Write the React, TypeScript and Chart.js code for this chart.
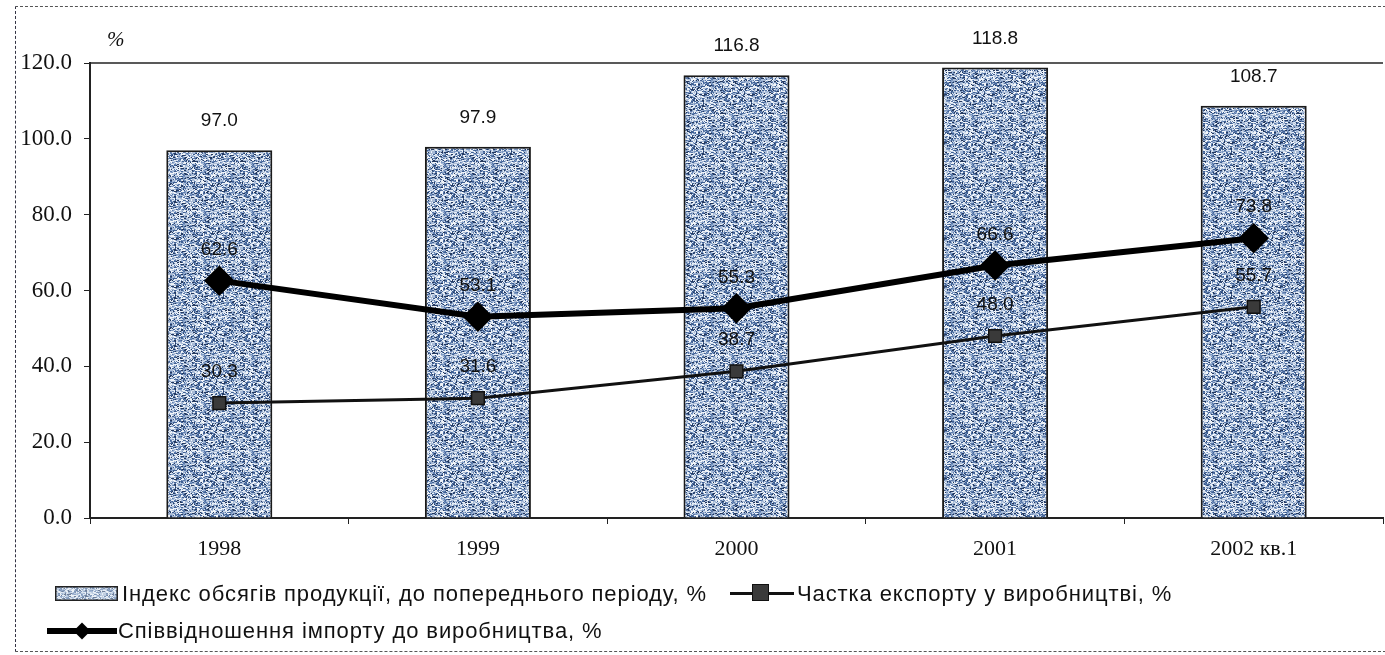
import React, { useEffect, useRef } from "react";
import { Chart, registerables } from "chart.js";
Chart.register(...registerables);

const categories = ["1998", "1999", "2000", "2001", "2002 кв.1"];
const productionIndex = [97.0, 97.9, 116.8, 118.8, 108.7];
const exportShare = [30.3, 31.6, 38.7, 48.0, 55.7];
const importRatio = [62.6, 53.1, 55.3, 66.6, 73.8];
const seriesNames = [
  "Індекс обсягів продукції, до попереднього періоду, %",
  "Частка експорту у виробництві, %",
  "Співвідношення імпорту до виробництва, %",
];
const yMin = 0;
const yMax = 120;
const yStep = 20;
const unitLabel = "%";

function hash(x: number, y: number) {
  const v = Math.sin(x * 12.9898 + y * 78.233) * 43758.5453;
  return v - Math.floor(v);
}

function makePattern(): CanvasPattern | string {
  const c = document.createElement("canvas");
  c.width = 48;
  c.height = 48;
  const g = c.getContext("2d");
  if (!g) return "#9fb3cf";
  const cols = ["#3e5f92", "#7d99c2", "#e9eff6", "#24395f", "#a9bcd8", "#d3deec", "#5b7aab", "#f4f7fb"];
  g.fillStyle = "#a9bbd6";
  g.fillRect(0, 0, 48, 48);
  for (let y = 0; y < 48; y += 1) {
    for (let x = 0; x < 48; x += 1) {
      const h = hash(x * 1.3, y * 0.7);
      if (h < 0.7) {
        g.fillStyle = cols[Math.floor(hash(y, x) * cols.length)];
        g.fillRect(x, y, 2, 1);
      }
    }
  }
  return g.createPattern(c, "repeat") || "#9fb3cf";
}

const labelPlugin = {
  id: "valueLabels",
  afterDatasetsDraw(chart: any) {
    const ctx = chart.ctx;
    ctx.save();
    ctx.fillStyle = "#111";
    ctx.textAlign = "center";
    ctx.textBaseline = "middle";
    ctx.font = "19px 'Liberation Sans', Arial, sans-serif";
    chart.data.datasets.forEach((ds: any, i: number) => {
      const meta = chart.getDatasetMeta(i);
      meta.data.forEach((el: any, j: number) => {
        const v = ds.data[j] as number;
        const off = ds.type === "line" ? 31 : 29;
        ctx.fillText(v.toFixed(1), el.x, el.y - off);
      });
    });
    ctx.restore();
  },
};

const framePlugin = {
  id: "frameTop",
  beforeDatasetsDraw(chart: any) {
    const { ctx, chartArea } = chart;
    ctx.save();
    ctx.strokeStyle = "#222";
    ctx.lineWidth = 1.5;
    ctx.beginPath();
    ctx.moveTo(chartArea.left, chartArea.top);
    ctx.lineTo(chartArea.right, chartArea.top);
    ctx.stroke();
    ctx.restore();
  },
};

export default function App() {
  const ref = useRef<HTMLCanvasElement | null>(null);
  const patRef = useRef<HTMLCanvasElement | null>(null);

  useEffect(() => {
    if (!ref.current) return;
    const pattern = makePattern();
    if (patRef.current) {
      const g = patRef.current.getContext("2d");
      if (g) {
        g.fillStyle = "#e3eaf3";
        g.fillRect(0, 0, 63, 15);
        g.globalAlpha = 0.6;
        g.fillStyle = pattern as any;
        g.fillRect(0, 0, 63, 15);
        g.globalAlpha = 1;
        g.strokeStyle = "#222";
        g.lineWidth = 1.5;
        g.strokeRect(0.75, 0.75, 61.5, 13.5);
      }
    }
    const serif = "'Liberation Serif', 'Times New Roman', serif";
    const chart = new Chart(ref.current, {
      type: "bar",
      data: {
        labels: categories,
        datasets: [
          {
            type: "bar",
            label: seriesNames[0],
            data: productionIndex,
            backgroundColor: pattern as any,
            borderColor: "#1a1a1a",
            borderWidth: 2,
            barPercentage: 1,
            categoryPercentage: 0.41,
            order: 3,
          },
          {
            type: "line",
            label: seriesNames[1],
            data: exportShare,
            borderColor: "#111",
            borderWidth: 3,
            pointStyle: "rect",
            pointRadius: 9,
            pointBackgroundColor: "#3a3a3a",
            pointBorderColor: "#111",
            pointBorderWidth: 1.5,
            tension: 0,
            order: 2,
          },
          {
            type: "line",
            label: seriesNames[2],
            data: importRatio,
            borderColor: "#000",
            borderWidth: 6,
            pointStyle: "rectRot",
            pointRadius: 11,
            pointBackgroundColor: "#000",
            pointBorderColor: "#000",
            tension: 0,
            order: 1,
          },
        ] as any,
      },
      options: {
        responsive: false,
        animation: false,
        layout: { padding: { left: 10, right: 0, top: 63, bottom: 87 } },
        plugins: {
          legend: { display: false },
          tooltip: { enabled: false },
        },
        scales: {
          x: {
            offset: true,
            grid: {
              display: true,
              offset: true,
              drawOnChartArea: false,
              drawTicks: true,
              tickLength: 6,
              color: "#222",
            },
            border: { color: "#222", width: 2 },
            ticks: { color: "#111", font: { family: serif, size: 22 }, padding: 12 },
            afterFit: (s: any) => {
              s.height = 50;
            },
          },
          y: {
            min: yMin,
            max: yMax,
            grid: {
              display: true,
              drawOnChartArea: false,
              drawTicks: true,
              tickLength: 6,
              color: "#222",
            },
            border: { color: "#222", width: 2 },
            ticks: {
              stepSize: yStep,
              color: "#111",
              padding: 12,
              font: { family: serif, size: 23 },
              callback: (v: any) => Number(v).toFixed(1),
            },
            afterFit: (s: any) => {
              s.width = 80;
            },
          },
        },
      },
      plugins: [labelPlugin, framePlugin],
    });
    return () => chart.destroy();
  }, []);

  const legendFont: React.CSSProperties = {
    position: "absolute",
    fontFamily: "'Liberation Sans', Arial, sans-serif",
    fontSize: 22,
    letterSpacing: "0.9px",
    color: "#111",
    whiteSpace: "nowrap",
    lineHeight: "24px",
  };

  return (
    <div style={{ position: "absolute", left: 0, top: 0, width: 1385, height: 655, background: "#fff", overflow: "hidden" }}>
      <div
        style={{
          position: "absolute",
          left: 15,
          top: 6,
          width: 1375,
          height: 644,
          borderTop: "1px dashed #555",
          borderLeft: "1px dashed #334",
          borderBottom: "1px dashed #555",
        }}
      />
      <canvas ref={ref} width={1400} height={655} style={{ position: "absolute", left: 0, top: 0, display: "block" }} />
      <div style={{ position: "absolute", left: 107, top: 27, fontFamily: "'Liberation Serif', serif", fontSize: 21, fontStyle: "italic", color: "#111" }}>
        {unitLabel}
      </div>
      <canvas ref={patRef} width={63} height={15} style={{ position: "absolute", left: 55, top: 586 }} />
      <div style={{ ...legendFont, left: 122, top: 582 }}>{seriesNames[0]}</div>
      <div style={{ position: "absolute", left: 730, top: 592, width: 64, height: 3, background: "#111" }} />
      <div style={{ position: "absolute", left: 752, top: 584, width: 17, height: 17, background: "#3a3a3a", border: "1.5px solid #111", boxSizing: "border-box" }} />
      <div style={{ ...legendFont, left: 797, top: 582 }}>{seriesNames[1]}</div>
      <div style={{ position: "absolute", left: 47, top: 628, width: 70, height: 6, background: "#000" }} />
      <div style={{ position: "absolute", left: 76, top: 625, width: 12, height: 12, background: "#000", transform: "rotate(45deg)" }} />
      <div style={{ ...legendFont, left: 118, top: 619 }}>{seriesNames[2]}</div>
    </div>
  );
}
